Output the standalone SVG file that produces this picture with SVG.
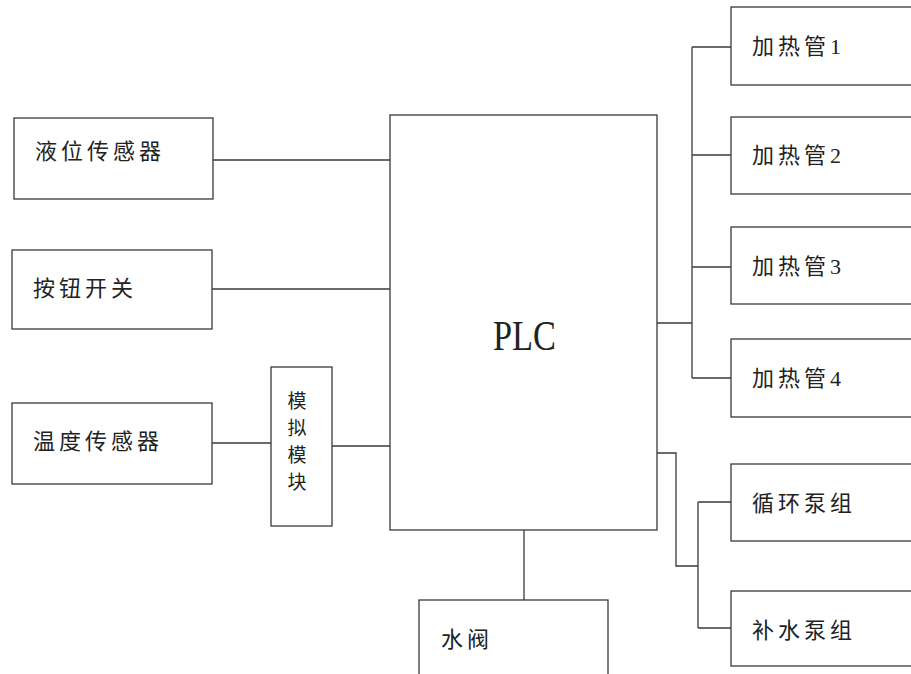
<svg xmlns="http://www.w3.org/2000/svg" width="911" height="674" viewBox="0 0 911 674">
<style>
.box{fill:#fff;stroke:#3a3a3a;stroke-width:1.3}
.ln{fill:none;stroke:#3a3a3a;stroke-width:1.3}
.t{font-family:"Liberation Serif","Noto Sans CJK SC",serif;font-size:22px;letter-spacing:4px;fill:#222}
.v{font-family:"Noto Sans CJK SC",sans-serif;font-size:19px;fill:#222;text-anchor:middle}
.plc{font-family:"Liberation Serif",serif;font-size:42px;fill:#222}
</style>
<rect width="911" height="674" fill="#fff"/>
<g id="connectors">
<path class="ln" d="M213 160H390M212 289H390M212 443H271M332 446H390M524 530V600"/>
<path class="ln" d="M657 323H692M692 47V378M692 47H731M692 155H731M692 267H731M692 378H731"/>
<path class="ln" d="M657 453H676V566H698M698 502V628M698 502H731M698 628H731"/>
</g>
<g id="level-sensor"><rect class="box" x="14" y="118" width="199" height="81"/><text class="t" x="35" y="159">液位传感器</text></g>
<g id="button-switch"><rect class="box" x="12" y="250" width="200" height="79"/><text class="t" x="33" y="296">按钮开关</text></g>
<g id="temp-sensor"><rect class="box" x="12" y="403" width="200" height="81"/><text class="t" x="33" y="449">温度传感器</text></g>
<g id="analog-module"><rect class="box" x="271" y="367" width="61" height="159"/>
<text class="v" x="297" y="408">模</text><text class="v" x="297" y="435">拟</text><text class="v" x="297" y="462">模</text><text class="v" x="297" y="489">块</text></g>
<g id="plc"><rect class="box" x="390" y="115" width="267" height="415"/><text class="plc" x="493" y="349.5" textLength="63" lengthAdjust="spacingAndGlyphs">PLC</text></g>
<g id="valve"><rect class="box" x="419" y="600" width="189" height="90"/><text class="t" x="441" y="647">水阀</text></g>
<g id="heater1"><rect class="box" x="731" y="7" width="200" height="78"/><text class="t" x="752" y="54">加热管1</text></g>
<g id="heater2"><rect class="box" x="731" y="117" width="200" height="77"/><text class="t" x="752" y="163">加热管2</text></g>
<g id="heater3"><rect class="box" x="731" y="227" width="200" height="77"/><text class="t" x="752" y="274">加热管3</text></g>
<g id="heater4"><rect class="box" x="731" y="339" width="200" height="78"/><text class="t" x="752" y="386">加热管4</text></g>
<g id="circ-pump"><rect class="box" x="731" y="464" width="200" height="77"/><text class="t" x="752" y="511">循环泵组</text></g>
<g id="feed-pump"><rect class="box" x="731" y="591" width="200" height="75"/><text class="t" x="752" y="638">补水泵组</text></g>
</svg>
